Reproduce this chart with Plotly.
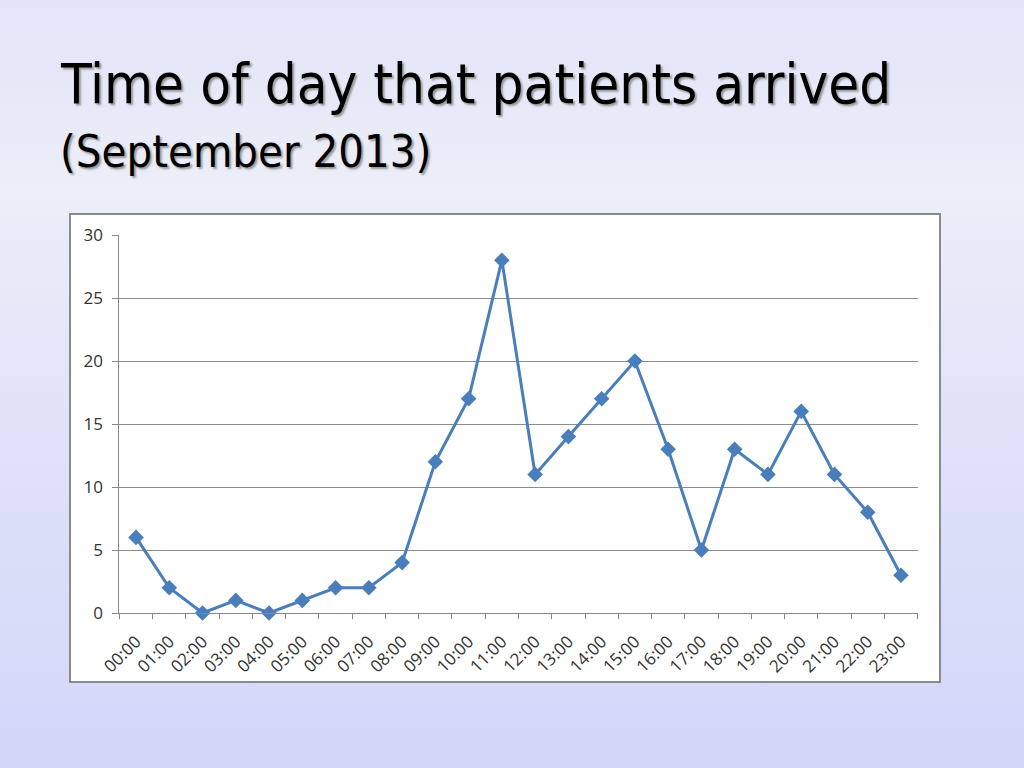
import base64
import plotly.graph_objects as go

hours = ["00:00", "01:00", "02:00", "03:00", "04:00", "05:00", "06:00", "07:00",
         "08:00", "09:00", "10:00", "11:00", "12:00", "13:00", "14:00", "15:00",
         "16:00", "17:00", "18:00", "19:00", "20:00", "21:00", "22:00", "23:00"]
patients = [6, 2, 0, 1, 0, 1, 2, 2, 4, 12, 17, 28, 11, 14, 17, 20, 13, 5, 13, 11, 16, 11, 8, 3]
y_ticks = [0, 5, 10, 15, 20, 25, 30]

title_text = "Time of day that patients arrived"
subtitle_text = "(September 2013)"

W, H = 1024, 768

svg = f'''<svg xmlns="http://www.w3.org/2000/svg" width="{W}" height="{H}">
<defs>
<linearGradient id="g" x1="0" y1="0" x2="0" y2="1">
<stop offset="0" stop-color="#e2e4f8"/>
<stop offset="0.25" stop-color="#eceef9"/>
<stop offset="0.55" stop-color="#e0e3f8"/>
<stop offset="1" stop-color="#d3d6f8"/>
</linearGradient>
</defs>
<rect width="{W}" height="{H}" fill="url(#g)"/>
</svg>'''
bg_uri = "data:image/svg+xml;base64," + base64.b64encode(svg.encode()).decode()

def px_x(x):
    return x / W

def px_y(y):
    return 1 - y / H

tick_font = dict(family="Open Sans", size=17, color="#333")

fig = go.Figure()
fig.add_trace(go.Scatter(
    x=hours, y=patients, mode="lines+markers",
    line=dict(color="#4a7ebb", width=3),
    marker=dict(symbol="diamond", size=12, color="#4a7ebb"),
    showlegend=False, cliponaxis=False,
))

fig.update_layout(
    template="none",
    autosize=False,
    width=W, height=H,
    margin=dict(l=0, r=0, t=0, b=0, pad=0, autoexpand=False),
    showlegend=False,
    paper_bgcolor="#dfe2f8",
    plot_bgcolor="rgba(0,0,0,0)",
    images=[dict(source=bg_uri, xref="paper", yref="paper", x=0, y=1,
                 sizex=1, sizey=1, sizing="stretch", layer="below")],
    shapes=[dict(type="rect", xref="paper", yref="paper",
                 x0=px_x(70), x1=px_x(940), y0=px_y(682), y1=px_y(214),
                 fillcolor="white", line=dict(color="#8a8a8a", width=2),
                 layer="below")],
    xaxis=dict(
        type="category", domain=[px_x(119.4), px_x(917.6)],
        range=[-0.5, len(hours) - 0.5], automargin=False,
        tickson="boundaries", ticks="outside", ticklen=5, tickcolor="#888",
        showline=True, linecolor="#888", linewidth=1,
        showgrid=False, tickangle=-45,
        tickfont=tick_font,
        ticklabelstandoff=11,
        anchor="y",
    ),
    yaxis=dict(
        domain=[px_y(613), px_y(235)], range=[0, 30], automargin=False,
        tickvals=y_ticks, ticks="outside", ticklen=6, tickcolor="#888",
        showline=True, linecolor="#888", linewidth=1,
        showgrid=True, gridcolor="#8c8c8c", gridwidth=1,
        zeroline=False,
        tickfont=tick_font,
        ticklabelstandoff=6,
    ),
    annotations=[
        dict(text=title_text, xref="paper", yref="paper",
             x=px_x(58), y=px_y(118), xanchor="left", yanchor="bottom",
             showarrow=False,
             font=dict(family="DejaVu Sans Condensed", size=56, color="black",
                       shadow="2px 2px 2px #9a9a9a")),
        dict(text=subtitle_text, xref="paper", yref="paper",
             x=px_x(58), y=px_y(180), xanchor="left", yanchor="bottom",
             showarrow=False,
             font=dict(family="DejaVu Sans Condensed", size=45, color="black",
                       shadow="2px 2px 2px #9a9a9a")),
    ],
)

fig.write_html("out.html", config={"displayModeBar": False},
               post_script="document.body.style.margin='0';document.body.style.overflow='hidden';")
